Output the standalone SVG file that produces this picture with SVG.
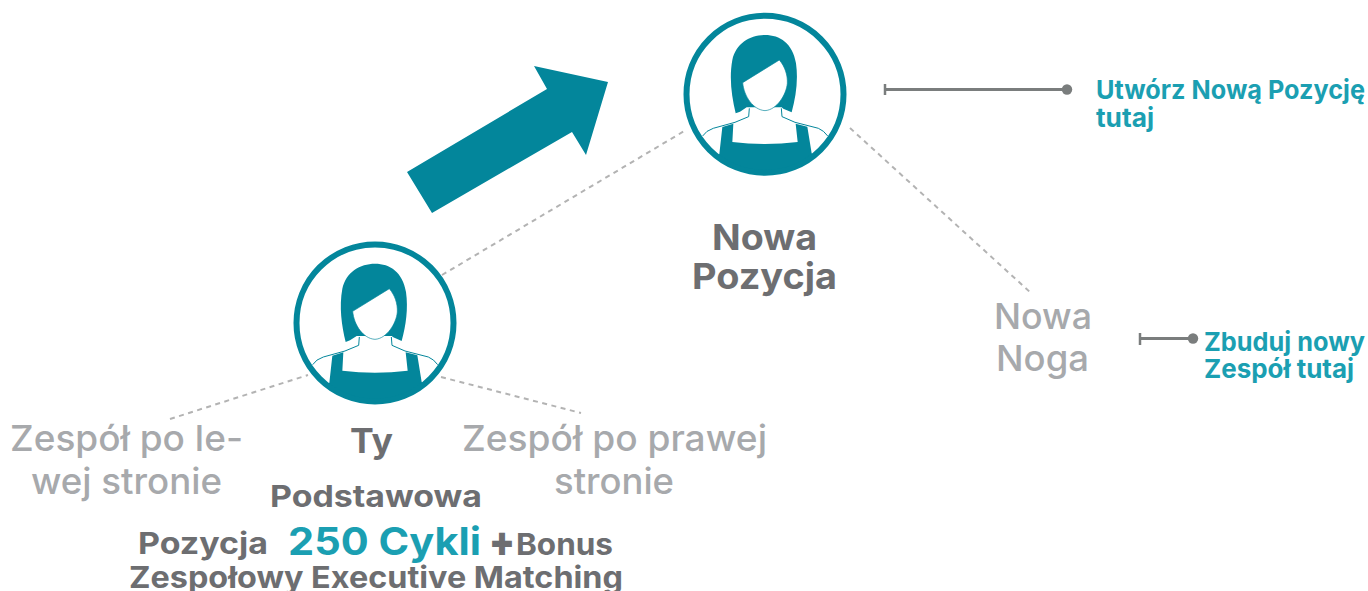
<svg xmlns="http://www.w3.org/2000/svg" width="1368" height="591" viewBox="0 0 1368 591">
<style>
text{font-family:Inter,"Noto Sans","Liberation Sans",sans-serif}
.dark{fill:#6d6e71;font-weight:700}
.soft{fill:#a7a9ac;font-weight:500;font-size:36px}
.cta{fill:#1b9fb2;font-weight:700;font-size:26px}
.dash{stroke:#b3b3b3;stroke-width:2;stroke-dasharray:5 4.5;fill:none}
.lead{stroke:#7a7d7d;stroke-width:3;fill:none}
.tick{stroke:#7a7d7d;stroke-width:2.5;fill:none}
.dot{fill:#7a7d7d}
.teal{fill:#03869b}
</style>
<defs>
<g id="avatar">
<circle r="78.5" fill="#fff"/>
<g transform="scale(0.3333) translate(-285 -283)">
<path class="teal" d="M197 340C185 290 177 235 187 180C198 130 240 105 285 105C330 105 368 130 378 190C385 240 378 290 365 337L340 326L335 322L230 322L210 335Z"/>
<path d="M218 248L328 180C345 200 353 225 352 250C349 285 320 330 285 332C250 330 222 290 218 248Z" fill="#fff" stroke="#03869b" stroke-width="2"/>
<path d="M238 325L236 350L195 367L130 385Q108 392 98 408M334 325L336 350L375 367L445 385Q462 392 473 408" fill="none" stroke="#03869b" stroke-width="3"/>
<path class="teal" d="M148 462L157 381L190 371L187 426Q285 438 383 426L377 371L412 380L425 460L430.6 467A234 234 0 0 1 142.5 469Z"/>
</g>
<circle r="78.5" fill="none" stroke="#03869b" stroke-width="6"/>
</g>
</defs>
<g id="connectors">
<path class="dash" d="M442 275L686 130"/>
<path class="dash" d="M850 128L1031 293"/>
<path class="dash" d="M170 419L308 375"/>
<path class="dash" d="M441 377L581 413"/>
<path class="lead" d="M885 89.5H1067"/><path class="tick" d="M885 84V95"/><circle class="dot" cx="1067" cy="89.5" r="5.2"/>
<path class="lead" d="M1140 338.5H1193"/><path class="tick" d="M1140 333V345"/><circle class="dot" cx="1193" cy="338.5" r="5.2"/>
</g>
<polygon id="arrow" class="teal" points="407,172 547,89 534,66 608,82 586,155 572,132 432,213"/>
<g id="node-new"><use href="#avatar" x="765" y="94.3"/>
<text class="dark" font-size="36" x="712" y="250" textLength="105" lengthAdjust="spacingAndGlyphs">Nowa</text>
<text class="dark" font-size="36" x="692" y="289" textLength="145" lengthAdjust="spacingAndGlyphs">Pozycja</text>
</g>
<g id="node-you"><use href="#avatar" x="375" y="323"/>
<text class="dark" font-size="34" x="350" y="453" textLength="43" lengthAdjust="spacingAndGlyphs">Ty</text>
<text class="dark" font-size="30" x="270" y="507" textLength="212" lengthAdjust="spacingAndGlyphs">Podstawowa</text>
<text class="dark" font-size="30" x="138" y="554" textLength="130" lengthAdjust="spacingAndGlyphs">Pozycja</text>
<text font-size="38" font-weight="700" fill="#1b9fb2" x="288" y="555" textLength="193" lengthAdjust="spacingAndGlyphs">250 Cykli</text>
<text class="dark" font-size="42" style="font-weight:900" x="489" y="556" textLength="26" lengthAdjust="spacingAndGlyphs">+</text>
<text class="dark" font-size="30" x="516" y="555" textLength="97" lengthAdjust="spacingAndGlyphs">Bonus</text>
<text class="dark" font-size="30" x="129" y="588" textLength="494" lengthAdjust="spacingAndGlyphs">Zespołowy Executive Matching</text>
</g>
<g id="node-left">
<text class="soft" x="10" y="451" textLength="233" lengthAdjust="spacingAndGlyphs">Zespół po le-</text>
<text class="soft" x="31" y="494" textLength="191" lengthAdjust="spacingAndGlyphs">wej stronie</text>
</g>
<g id="node-right">
<text class="soft" x="462" y="451" textLength="305" lengthAdjust="spacingAndGlyphs">Zespół po prawej</text>
<text class="soft" x="554" y="494" textLength="120" lengthAdjust="spacingAndGlyphs">stronie</text>
</g>
<g id="node-leg">
<text class="soft" x="994" y="329" textLength="98" lengthAdjust="spacingAndGlyphs">Nowa</text>
<text class="soft" x="996" y="371" textLength="93" lengthAdjust="spacingAndGlyphs">Noga</text>
</g>
<g id="note-position">
<text class="cta" x="1096" y="99" textLength="269" lengthAdjust="spacingAndGlyphs">Utwórz Nową Pozycję</text>
<text class="cta" x="1096" y="127" textLength="58" lengthAdjust="spacingAndGlyphs">tutaj</text>
</g>
<g id="note-team">
<text class="cta" x="1204" y="351" textLength="161" lengthAdjust="spacingAndGlyphs">Zbuduj nowy</text>
<text class="cta" x="1204" y="378" textLength="150" lengthAdjust="spacingAndGlyphs">Zespół tutaj</text>
</g>
</svg>
